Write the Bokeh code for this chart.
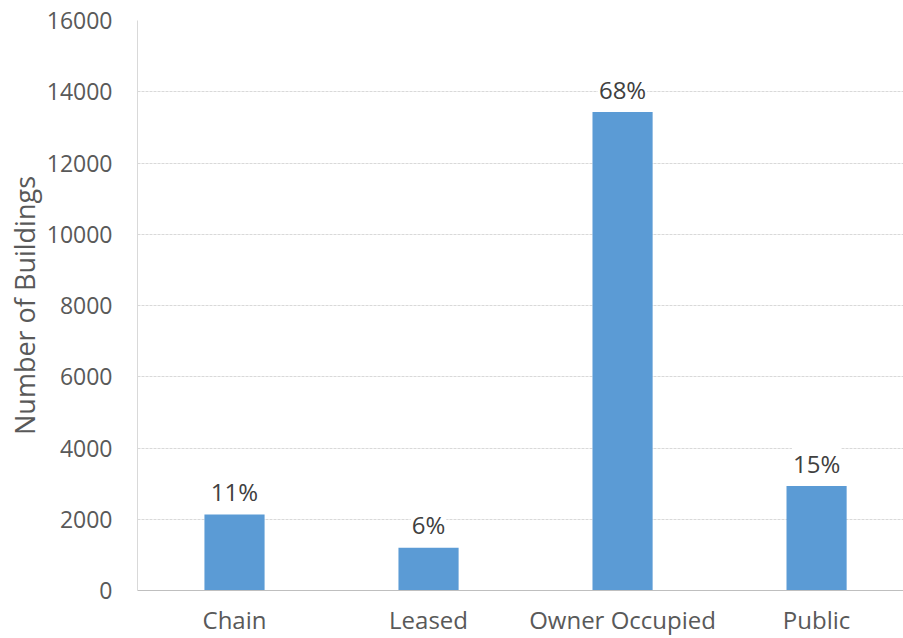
from bokeh.plotting import figure
from bokeh.models import ColumnDataSource, Range1d, FixedTicker
from bokeh.core.properties import value
from bokeh.embed import file_html
from bokeh.resources import INLINE

categories = ["Chain", "Leased", "Owner Occupied", "Public"]
buildings = [2130, 1200, 13430, 2930]
share_labels = ["11%", "6%", "68%", "15%"]
y_ticks = [0, 2000, 4000, 6000, 8000, 10000, 12000, 14000, 16000]

positions = list(range(len(categories)))
src = ColumnDataSource(dict(x=positions, top=buildings, label=share_labels))

FONT = "Open Sans"
p = figure(width=903, height=638, output_backend="svg", toolbar_location=None,
           x_range=Range1d(-0.5, 3.448), y_range=Range1d(0, 16000),
           min_border_left=137, min_border_right=0, min_border_top=20,
           min_border_bottom=48)
p.outline_line_color = None
p.background_fill_color = "white"
p.border_fill_color = "white"

p.vbar(x="x", top="top", width=0.31, source=src, fill_color="#5B9BD5",
       line_color=None)
p.text(x="x", y="top", text="label", source=src, text_align="center",
       text_baseline="alphabetic", y_offset=-23, text_font=value(FONT),
       text_font_size="24px", text_color="#404040",
       background_fill_color="white", padding=1)

p.xgrid.grid_line_color = None
p.ygrid.ticker = FixedTicker(ticks=y_ticks)
p.ygrid.grid_line_color = "#D9D9D9"
p.ygrid.grid_line_dash = "3 1"

ya = p.yaxis[0]
ya.ticker = FixedTicker(ticks=y_ticks)
ya.axis_line_color = "#D9D9D9"
ya.major_tick_line_color = None
ya.minor_tick_line_color = None
ya.major_tick_out = 0
ya.major_tick_in = 0
ya.major_label_standoff = 25
ya.major_label_text_font = FONT
ya.major_label_text_font_size = "23px"
ya.major_label_text_color = "#595959"
ya.axis_label = "Number of Buildings"
ya.axis_label_text_font = FONT
ya.axis_label_text_font_size = "27px"
ya.axis_label_text_font_style = "normal"
ya.axis_label_text_color = "#595959"
ya.axis_label_standoff = 1

xa = p.xaxis[0]
xa.ticker = FixedTicker(ticks=positions)
xa.major_label_overrides = {i: c for i, c in zip(positions, categories)}
xa.axis_line_color = "#BFBFBF"
xa.major_tick_line_color = None
xa.minor_tick_line_color = None
xa.major_tick_out = 0
xa.major_tick_in = 0
xa.major_label_standoff = 12
xa.major_label_text_font = FONT
xa.major_label_text_font_size = "24px"
xa.major_label_text_color = "#595959"

open("out.html", "w").write(file_html(p, INLINE))
